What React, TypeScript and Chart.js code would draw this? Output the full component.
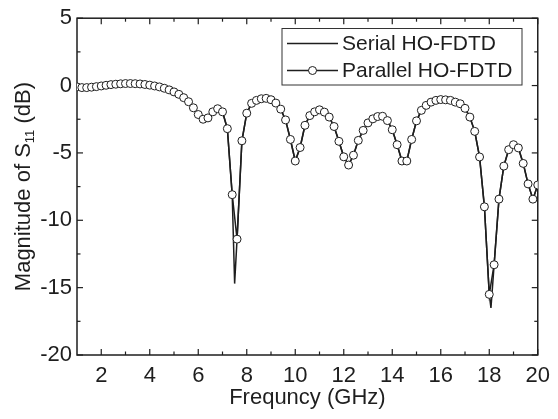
import React, { useEffect, useRef } from 'react';
import { Chart, registerables } from 'chart.js';

Chart.register(...registerables);

// ---------- data ----------
const freqGHz = [
  1.0, 1.2, 1.4, 1.6, 1.8, 2.0, 2.2, 2.4, 2.6, 2.8,
  3.0, 3.2, 3.4, 3.6, 3.8, 4.0, 4.2, 4.4, 4.6, 4.8,
  5.0, 5.2, 5.4, 5.6, 5.8, 6.0, 6.2, 6.4, 6.6, 6.8,
  7.0, 7.2, 7.4, 7.6, 7.8, 8.0, 8.2, 8.4, 8.6, 8.8,
  9.0, 9.2, 9.4, 9.6, 9.8, 10.0, 10.2, 10.4, 10.6, 10.8,
  11.0, 11.2, 11.4, 11.6, 11.8, 12.0, 12.2, 12.4, 12.6, 12.8,
  13.0, 13.2, 13.4, 13.6, 13.8, 14.0, 14.2, 14.4, 14.6, 14.8,
  15.0, 15.2, 15.4, 15.6, 15.8, 16.0, 16.2, 16.4, 16.6, 16.8,
  17.0, 17.2, 17.4, 17.6, 17.8, 18.0, 18.2, 18.4, 18.6, 18.8,
  19.0, 19.2, 19.4, 19.6, 19.8, 20.0,
];

const parallelS11 = [
  -0.10, -0.15, -0.15, -0.12, -0.08, -0.03, 0.02, 0.07, 0.10, 0.13,
  0.15, 0.15, 0.14, 0.12, 0.08, 0.03, -0.03, -0.10, -0.20, -0.32,
  -0.47, -0.65, -0.90, -1.20, -1.65, -2.15, -2.50, -2.40, -1.95, -1.72,
  -1.95, -3.20, -8.10, -11.40, -4.10, -2.05, -1.32, -1.10, -0.98, -0.95,
  -1.05, -1.30, -1.75, -2.55, -4.00, -5.60, -4.60, -2.95, -2.23, -1.95,
  -1.80, -1.97, -2.34, -3.04, -4.14, -5.29, -5.90, -5.17, -4.07, -3.33,
  -2.77, -2.47, -2.30, -2.28, -2.60, -3.28, -4.39, -5.60, -5.60, -4.00,
  -2.62, -1.84, -1.47, -1.23, -1.10, -1.04, -1.06, -1.10, -1.23, -1.35,
  -1.69, -2.34, -3.40, -5.30, -9.00, -15.50, -13.30, -8.43, -5.98, -4.76,
  -4.39, -4.63, -5.78, -7.30, -8.43, -7.38,
];

// serial solution follows the parallel one, plus the deeper resonance minima
const serialDipFreq = [7.5, 18.07];
const serialDipS11 = [-14.7, -16.5];

const xTickValues = [2, 4, 6, 8, 10, 12, 14, 16, 18, 20];
const xMinorValues = [3, 5, 7, 9, 11, 13, 15, 17, 19];
const yTickValues = [-20, -15, -10, -5, 0, 5];
const yMinorValues = [-17.5, -12.5, -7.5, -2.5, 2.5];

const legendLabels = ['Serial HO-FDTD', 'Parallel HO-FDTD'];
const xTitle = 'Frequncy (GHz)';
const yTitleParts = ['Magnitude of S', '11', ' (dB)'];

const INK = '#1e1e1e';
const FONT = '"Liberation Sans", Arial, sans-serif';

export default function App() {
  const canvasRef = useRef<HTMLCanvasElement | null>(null);

  useEffect(() => {
    document.body.style.margin = '0';
    const canvas = canvasRef.current;
    if (!canvas) return;

    const parallelPts = freqGHz.map((f, i) => ({ x: f, y: parallelS11[i] }));
    const serialPts = parallelPts
      .concat(serialDipFreq.map((f, i) => ({ x: f, y: serialDipS11[i] })))
      .sort((a, b) => a.x - b.x);

    const framePlugin = {
      id: 'frame',
      beforeDatasetsDraw(chart: any) {
        const { ctx, chartArea: a, scales } = chart;
        const xs = scales.x;
        const ys = scales.y;
        ctx.save();
        ctx.strokeStyle = INK;
        ctx.lineWidth = 1.5;
        ctx.strokeRect(a.left, a.top, a.right - a.left, a.bottom - a.top);
        ctx.lineWidth = 1.2;
        const tick = (x1: number, y1: number, x2: number, y2: number) => {
          ctx.beginPath();
          ctx.moveTo(x1, y1);
          ctx.lineTo(x2, y2);
          ctx.stroke();
        };
        const maj = 6;
        const min = 3.5;
        xTickValues.forEach((v) => {
          const px = xs.getPixelForValue(v);
          tick(px, a.bottom, px, a.bottom - maj);
          tick(px, a.top, px, a.top + maj);
        });
        xMinorValues.forEach((v) => {
          const px = xs.getPixelForValue(v);
          tick(px, a.bottom, px, a.bottom - min);
          tick(px, a.top, px, a.top + min);
        });
        yTickValues.forEach((v) => {
          const py = ys.getPixelForValue(v);
          tick(a.left, py, a.left + maj, py);
          tick(a.right, py, a.right - maj, py);
        });
        yMinorValues.forEach((v) => {
          const py = ys.getPixelForValue(v);
          tick(a.left, py, a.left + min, py);
          tick(a.right, py, a.right - min, py);
        });
        ctx.restore();
      },
      afterDraw(chart: any) {
        const { ctx, chartArea: a } = chart;
        ctx.save();
        // y-axis title with subscript
        ctx.fillStyle = INK;
        ctx.textBaseline = 'middle';
        ctx.textAlign = 'left';
        const big = `22px ${FONT}`;
        const small = `13px ${FONT}`;
        ctx.font = big;
        const w0 = ctx.measureText(yTitleParts[0]).width;
        const w2 = ctx.measureText(yTitleParts[2]).width;
        ctx.font = small;
        const w1 = ctx.measureText(yTitleParts[1]).width;
        const total = w0 + w1 + w2;
        ctx.translate(24, (a.top + a.bottom) / 2);
        ctx.rotate(-Math.PI / 2);
        let cx = -total / 2;
        ctx.font = big;
        ctx.fillText(yTitleParts[0], cx, 0);
        cx += w0;
        ctx.font = small;
        ctx.fillText(yTitleParts[1], cx, 6);
        cx += w1;
        ctx.font = big;
        ctx.fillText(yTitleParts[2], cx, 0);
        ctx.restore();

        // legend
        ctx.save();
        const bx = 282;
        const by = 28.5;
        const bw = 240;
        const bh = 56.5;
        ctx.fillStyle = '#ffffff';
        ctx.fillRect(bx, by, bw, bh);
        ctx.strokeStyle = '#333333';
        ctx.lineWidth = 1;
        ctx.strokeRect(bx, by, bw, bh);
        const rows = [43.5, 70.5];
        ctx.strokeStyle = INK;
        ctx.lineWidth = 1.5;
        rows.forEach((ry) => {
          ctx.beginPath();
          ctx.moveTo(287, ry);
          ctx.lineTo(338, ry);
          ctx.stroke();
        });
        ctx.beginPath();
        ctx.arc(312.5, rows[1], 4, 0, Math.PI * 2);
        ctx.fillStyle = '#ffffff';
        ctx.fill();
        ctx.lineWidth = 1;
        ctx.stroke();
        ctx.fillStyle = INK;
        ctx.font = `21px ${FONT}`;
        ctx.textBaseline = 'middle';
        ctx.textAlign = 'left';
        ctx.fillText(legendLabels[0], 342, rows[0] + 1);
        ctx.fillText(legendLabels[1], 342, rows[1] + 1);
        ctx.restore();
      },
    };

    const chart = new Chart(canvas, {
      type: 'line',
      data: {
        datasets: [
          {
            label: legendLabels[1],
            data: parallelPts,
            borderColor: INK,
            borderWidth: 1.5,
            pointRadius: 4,
            pointBorderWidth: 1,
            pointBackgroundColor: '#ffffff',
            pointBorderColor: INK,
            tension: 0,
            fill: false,
          },
          {
            label: legendLabels[0],
            data: serialPts,
            borderColor: INK,
            borderWidth: 1.5,
            pointRadius: 0,
            tension: 0,
            fill: false,
          },
        ],
      },
      options: {
        responsive: false,
        animation: false,
        events: [],
        layout: { padding: { top: 15, right: 15, left: 0, bottom: 0 } },
        plugins: {
          legend: { display: false },
          tooltip: { enabled: false },
          title: { display: false },
        },
        scales: {
          x: {
            type: 'linear',
            min: 1,
            max: 20,
            afterBuildTicks: (s: any) => {
              s.ticks = xTickValues.map((v) => ({ value: v }));
            },
            afterFit: (s: any) => {
              s.height = 64;
            },
            grid: { display: false, drawTicks: false },
            border: { display: false },
            ticks: {
              font: { family: FONT, size: 22 },
              color: INK,
              padding: 8,
              maxRotation: 0,
              autoSkip: false,
            },
            title: {
              display: true,
              text: xTitle,
              font: { family: FONT, size: 22 },
              color: INK,
              padding: { top: 0, bottom: 8 },
            },
          },
          y: {
            type: 'linear',
            min: -20,
            max: 5,
            afterBuildTicks: (s: any) => {
              s.ticks = yTickValues.map((v) => ({ value: v }));
            },
            afterFit: (s: any) => {
              s.width = 77;
            },
            grid: { display: false, drawTicks: false },
            border: { display: false },
            ticks: {
              font: { family: FONT, size: 22 },
              color: INK,
              padding: 5,
              autoSkip: false,
            },
          },
        },
      },
      plugins: [framePlugin],
    } as any);

    return () => chart.destroy();
  }, []);

  return (
    <div style={{ width: 558, height: 419, background: '#fff' }}>
      <canvas ref={canvasRef} width={558} height={419} />
    </div>
  );
}
